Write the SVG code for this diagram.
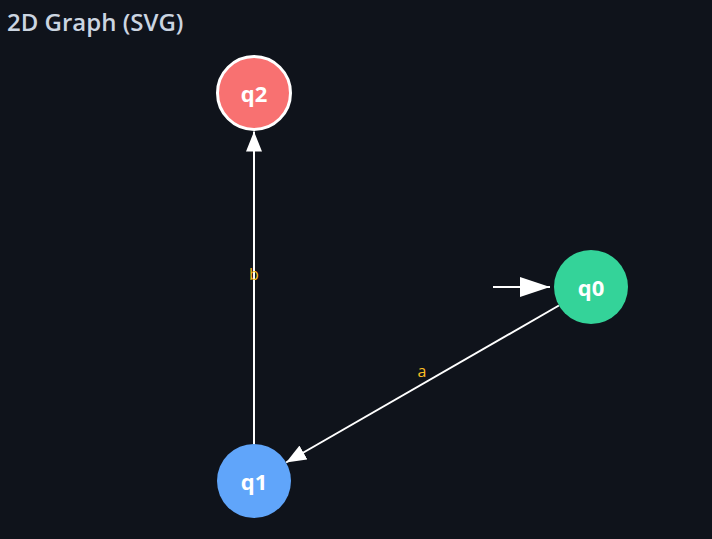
<svg xmlns="http://www.w3.org/2000/svg" width="712" height="539" viewBox="0 0 712 539">
<style>
.title{font-family:"Open Sans","Noto Sans","Liberation Sans",sans-serif;font-size:24px;font-weight:600;fill:#cbd5e1;}
.node circle{stroke:none;}
.node text{font-family:"Open Sans","Noto Sans","Liberation Sans",sans-serif;font-size:22px;font-weight:bold;fill:#ffffff;text-anchor:middle;dominant-baseline:central;}
.edge{stroke:#ffffff;stroke-width:2;fill:none;}
.lbl{font-family:"Open Sans","Noto Sans","Liberation Sans",sans-serif;font-size:16px;fill:#fbbf24;text-anchor:middle;}
</style>
<defs>
<marker id="arr" markerWidth="20" markerHeight="16" refX="20" refY="8" orient="auto" markerUnits="userSpaceOnUse">
<path d="M0,0 L20,8 L0,16 Z" fill="#ffffff"/>
</marker>
<marker id="arrStart" markerWidth="30" markerHeight="20" refX="30" refY="10" orient="auto" markerUnits="userSpaceOnUse">
<path d="M0,0 L30,10 L0,20 Z" fill="#ffffff"/>
</marker>
</defs>
<rect x="0" y="0" width="712" height="539" fill="#0f131b"/>
<text class="title" x="7" y="31">2D Graph (SVG)</text>
<g id="connectors">
<line class="edge" x1="493" y1="287" x2="550" y2="287" stroke-width="2.5" marker-end="url(#arrStart)"/>
<line class="edge" x1="558.9" y1="305.5" x2="286.1" y2="462.5" marker-end="url(#arr)"/>
<text class="lbl" x="422" y="377">a</text>
<line class="edge" x1="254" y1="444" x2="254" y2="131.5" marker-end="url(#arr)"/>
<text class="lbl" x="254" y="280">b</text>
</g>
<g id="node-q2" class="node">
<circle cx="254" cy="93" r="36.5" fill="#f87171" style="stroke:#ffffff;stroke-width:3"/>
<text x="254" y="93">q2</text>
</g>
<g id="node-q1" class="node">
<circle cx="254" cy="481" r="37" fill="#60a5fa"/>
<text x="254" y="481">q1</text>
</g>
<g id="node-q0" class="node">
<circle cx="591" cy="287" r="37" fill="#34d399"/>
<text x="591" y="287">q0</text>
</g>
</svg>
